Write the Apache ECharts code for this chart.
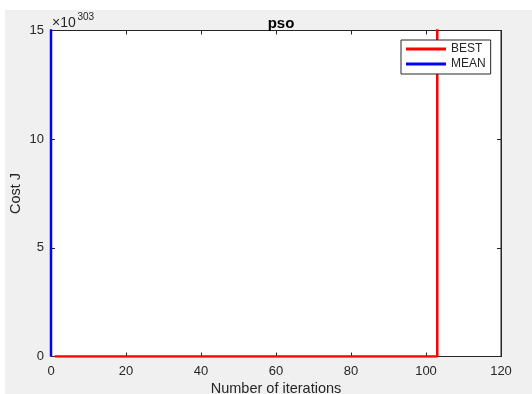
<!DOCTYPE html>
<html>
<head>
<meta charset="utf-8">
<script src="https://cdn.jsdelivr.net/npm/echarts@6/dist/echarts.min.js"></script>
<style>
  html, body { margin: 0; padding: 0; background: #fff; }
  #chart { width: 532px; height: 394px; }
</style>
</head>
<body>
<div id="chart"></div>
<script>
// values in units of 1e303
const xTicks = [0, 20, 40, 60, 80, 100, 120];
const yTicks = [0, 5, 10, 15];
const bestIter = [1, 103, 103];
const bestCost = [0, 0, 16];
const meanIter = [0, 0];
const meanCost = [16, 0];

const txt = '#262626';
const font = 'Liberation Sans';

const chart = echarts.init(document.getElementById('chart'));

const zip = (xs, ys) => xs.map((x, i) => [x, ys[i]]);

const tick = { show: true, inside: true, length: 4, lineStyle: { color: '#262626', width: 1 } };
const line = { show: true, onZero: false, lineStyle: { color: '#262626', width: 1 } };

const option = {
  animation: false,
  textStyle: { fontFamily: font },
  graphic: [
    { type: 'rect', z: -10, shape: { x: 5, y: 10, width: 527, height: 384 }, style: { fill: '#f0f0f0' } },
    { type: 'text', x: 52, y: 23, style: { text: '×10', font: '14px ' + font, fill: txt, verticalAlign: 'middle' } },
    { type: 'text', x: 77.5, y: 17, style: { text: '303', font: '10px ' + font, fill: txt, verticalAlign: 'middle' } }
  ],
  title: {
    text: 'pso',
    left: 276, top: 11, textAlign: 'center',
    textStyle: { fontSize: 15, fontWeight: 'bold', color: '#000', fontFamily: font }
  },
  legend: {
    orient: 'vertical',
    left: 401, top: 40,
    data: ['BEST', 'MEAN'],
    icon: 'rect',
    itemWidth: 40, itemHeight: 3,
    itemGap: 1,
    padding: [2, 5, 3, 5],
    backgroundColor: '#fff',
    borderColor: '#262626',
    borderWidth: 1,
    borderRadius: 0,
    textStyle: { fontSize: 12, color: txt, lineHeight: 14, fontFamily: font }
  },
  grid: {
    left: 51, top: 30.5, right: 31, bottom: 37.5,
    outerBoundsMode: 'none',
    containLabel: false,
    show: true, backgroundColor: '#fff', borderColor: '#262626', borderWidth: 1
  },
  xAxis: [
    {
      type: 'value', min: xTicks[0], max: xTicks[xTicks.length - 1], interval: 20,
      name: 'Number of iterations', nameLocation: 'middle', nameGap: 25, nameMoveOverlap: false,
      nameTextStyle: { fontSize: 14.5, color: txt, fontFamily: font },
      axisLine: line,
      axisTick: tick,
      axisLabel: { fontSize: 13, color: txt, margin: 8, fontFamily: font },
      splitLine: { show: false }
    },
    {
      type: 'value', position: 'top', min: xTicks[0], max: xTicks[xTicks.length - 1], interval: 20,
      axisLine: line,
      axisTick: tick,
      axisLabel: { show: false },
      splitLine: { show: false }
    }
  ],
  yAxis: [
    {
      type: 'value', min: yTicks[0], max: yTicks[yTicks.length - 1], interval: 5,
      name: 'Cost J', nameLocation: 'middle', nameGap: 28, nameMoveOverlap: false,
      nameTextStyle: { fontSize: 14.5, color: txt, fontFamily: font },
      axisLine: line,
      axisTick: tick,
      axisLabel: { fontSize: 13, color: txt, margin: 7, fontFamily: font },
      splitLine: { show: false }
    },
    {
      type: 'value', position: 'right', min: yTicks[0], max: yTicks[yTicks.length - 1], interval: 5,
      axisLine: line,
      axisTick: tick,
      axisLabel: { show: false },
      splitLine: { show: false }
    }
  ],
  series: [
    {
      name: 'BEST', type: 'line', z: 3,
      data: zip(bestIter, bestCost),
      symbol: 'none',
      color: '#ff0000',
      lineStyle: { color: '#ff0000', width: 2.5 }
    },
    {
      name: 'MEAN', type: 'line', z: 2,
      data: zip(meanIter, meanCost),
      symbol: 'none',
      color: '#0000ff',
      lineStyle: { color: '#0000ff', width: 2.5 }
    }
  ]
};

chart.setOption(option);
</script>
</body>
</html>
